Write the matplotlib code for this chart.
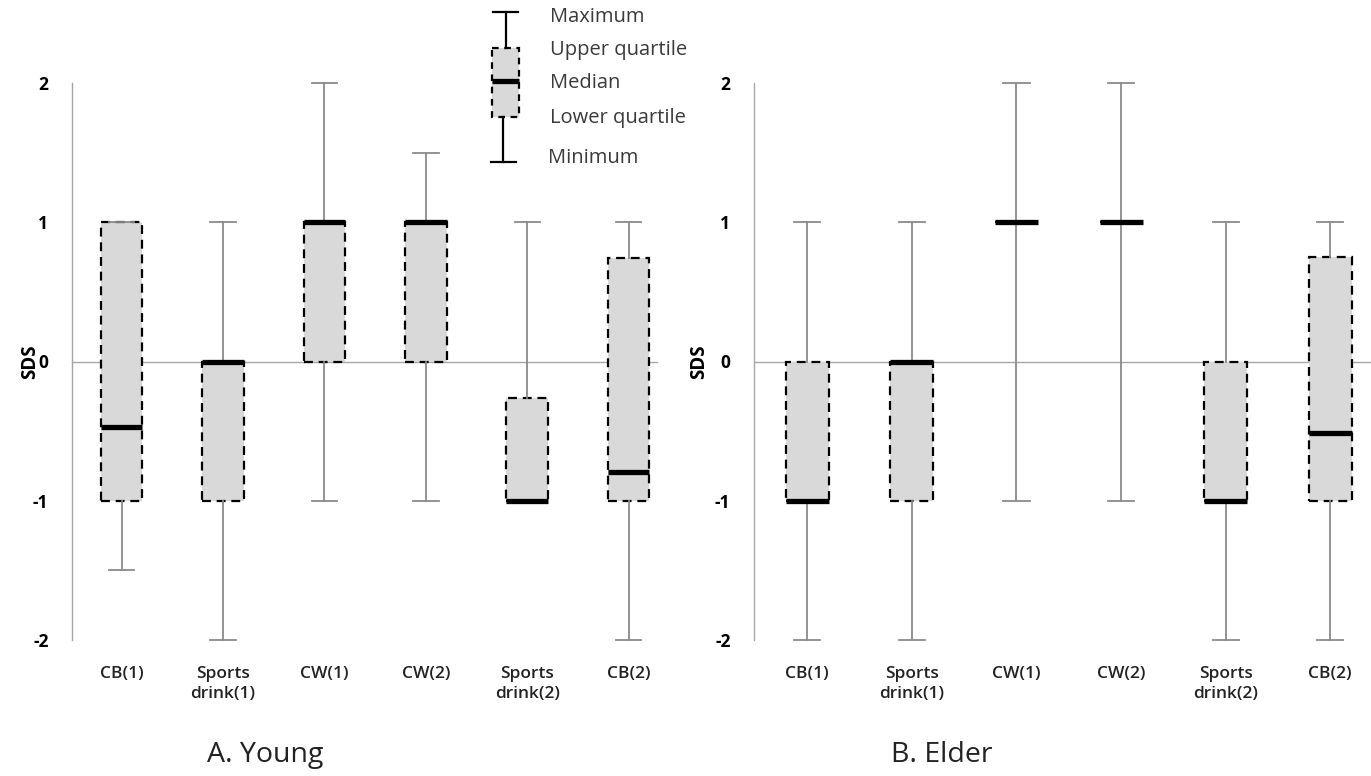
import matplotlib
matplotlib.use("Agg")
import matplotlib.pyplot as plt
from matplotlib.patches import Rectangle

plt.rcParams['font.family'] = ['Open Sans', 'DejaVu Sans']

groups = ['CB(1)', 'Sports\ndrink(1)', 'CW(1)', 'CW(2)', 'Sports\ndrink(2)', 'CB(2)']

# five-number summaries: min, q1, median, q3, max
young_min = [-1.5, -2, -1, -1, -1, -2]
young_q1 = [-1, -1, 0, 0, -1, -1]
young_med = [-0.47, 0, 1, 1, -1, -0.79]
young_q3 = [1, 0, 1, 1, -0.26, 0.74]
young_max = [1, 1, 2, 1.5, 1, 1]

elder_min = [-2, -2, -1, -1, -2, -2]
elder_q1 = [-1, -1, 1, 1, -1, -1]
elder_med = [-1, 0, 1, 1, -1, -0.51]
elder_q3 = [0, 0, 1, 1, 0, 0.75]
elder_max = [1, 1, 2, 2, 1, 1]

yticks = [-2, -1, 0, 1, 2]

W, H = 1371, 776
fig = plt.figure(figsize=(W / 100, H / 100), dpi=100)

GREY = '#8a8a8a'
FILL = '#d9d9d9'


def px_axes(x0, x1, y0, y1):
    return fig.add_axes([x0 / W, 1 - y1 / H, (x1 - x0) / W, (y1 - y0) / H])


def panel(ax, mins, q1, med, q3, maxs, xlim, label_x):
    stats = []
    for i in range(len(groups)):
        stats.append(dict(whislo=mins[i], q1=q1[i], med=med[i], q3=q3[i],
                          whishi=maxs[i], fliers=[]))
    ax.axhline(0, color='#a6a6a6', lw=1.0, zorder=0)
    ax.bxp(stats, positions=range(1, 7), widths=0.41, capwidths=0.25,
           patch_artist=True, showfliers=False,
           boxprops=dict(facecolor=FILL, edgecolor='black', lw=1.6,
                         linestyle=(0, (4, 2.6))),
           whiskerprops=dict(color=GREY, lw=1.3),
           capprops=dict(color=GREY, lw=1.3),
           medianprops=dict(color='black', lw=3.8, solid_capstyle='butt'),
           manage_ticks=False)
    for art in ax.get_children():
        art.set_clip_on(False)
    ax.set_xlim(*xlim)
    ax.set_ylim(-2, 2)
    ax.set_yticks(yticks)
    ax.set_yticklabels([str(t) for t in yticks], fontweight='bold', fontsize=12.5)
    ax.set_xticks(range(1, 7))
    ax.set_xticklabels(groups, fontsize=12.5, fontweight='semibold',
                       linespacing=1.3, color='#222222')
    ax.tick_params(axis='both', length=0)
    ax.tick_params(axis='y', pad=17)
    ax.tick_params(axis='x', pad=19)
    for s in ['top', 'right', 'bottom']:
        ax.spines[s].set_visible(False)
    ax.spines['left'].set_color('#a6a6a6')
    ax.spines['left'].set_linewidth(1.0)
    ax.set_ylabel('SDS', fontweight='bold', fontsize=13.5)
    ax.yaxis.set_label_coords(label_x, 0.5)


ax1 = px_axes(72, 657, 83, 640)
panel(ax1, young_min, young_q1, young_med, young_q3, young_max, (0.51, 6.28),
      (40 - 72) / 585)
ax2 = px_axes(754, 1371, 83, 640)
panel(ax2, elder_min, elder_q1, elder_med, elder_q3, elder_max, (0.49, 6.39),
      (709 - 754) / 617)

# overlay in pixel coordinates for the legend glyph and panel titles
ov = fig.add_axes([0, 0, 1, 1])
ov.set_xlim(0, W)
ov.set_ylim(H, 0)
ov.axis('off')
ov.patch.set_alpha(0)

ov.plot([493, 518], [12, 12], color='black', lw=1.6)
ov.plot([506, 506], [12, 48], color='black', lw=1.6)
ov.add_patch(Rectangle((492, 48), 27, 69, facecolor=FILL, edgecolor='black',
                       lw=1.6, linestyle=(0, (3, 2.5))))
ov.plot([492, 519], [81, 81], color='black', lw=3.8, solid_capstyle='butt')
ov.plot([503, 503], [117, 162], color='black', lw=1.6)
ov.plot([491, 516], [162, 162], color='black', lw=1.6)

legend_labels = ['Maximum', 'Upper quartile', 'Median', 'Lower quartile', 'Minimum']
legend_x = [550, 550, 550, 550, 548]
legend_y = [17, 50, 83, 118, 158]
for lab, lx, ly in zip(legend_labels, legend_x, legend_y):
    ov.text(lx, ly, lab, fontsize=14.5, color='#3a3a3a', va='center', ha='left')

ov.text(265, 755, 'A. Young', fontsize=20.5, color='#222222', ha='center', va='center')
ov.text(942, 755, 'B. Elder', fontsize=20.5, color='#222222', ha='center', va='center')

fig.savefig('out.png', dpi=100)
